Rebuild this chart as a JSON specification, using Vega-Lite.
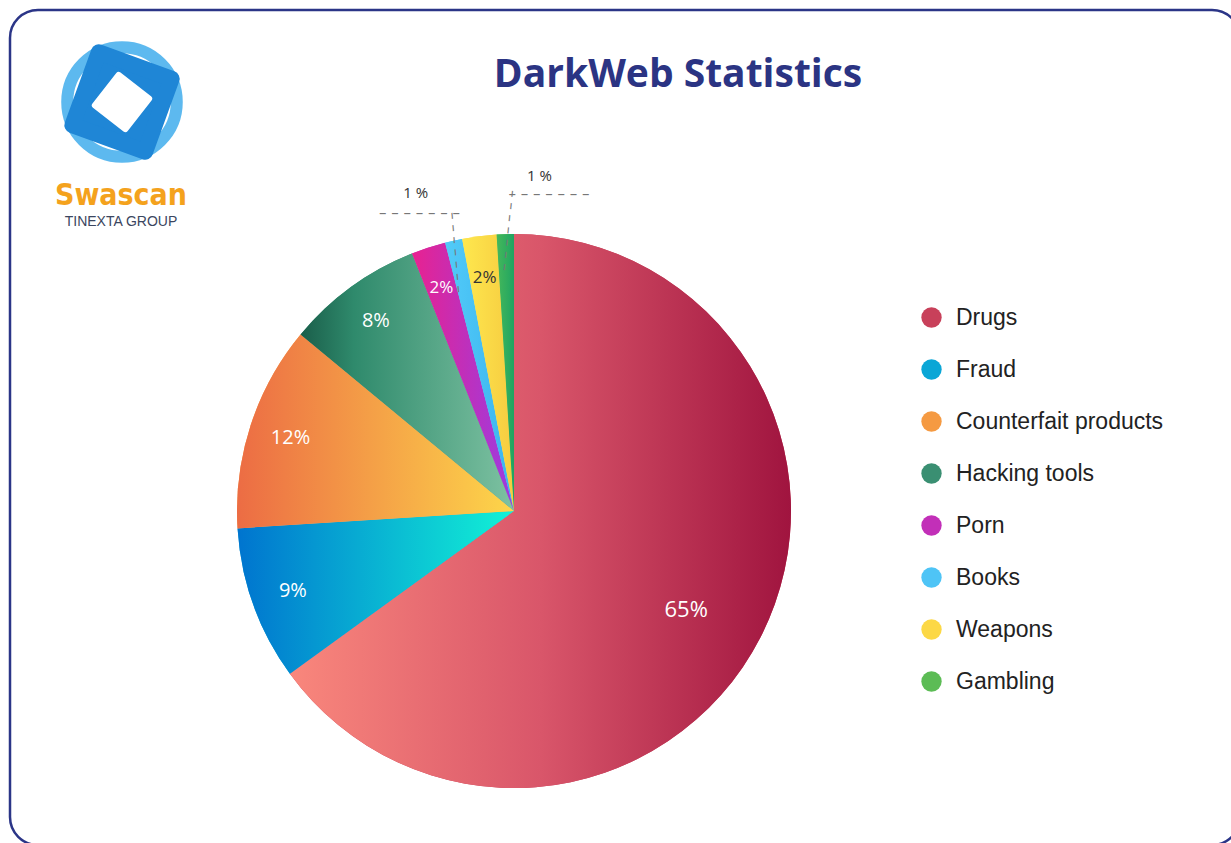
{
  "$schema": "https://vega.github.io/schema/vega-lite/v6.json",
  "autosize": "none",
  "padding": {"left": 10, "top": 10, "right": -9, "bottom": -2},
  "width": 1230,
  "height": 835,
  "background": "white",
  "view": {"stroke": "#2b3587", "strokeWidth": 2.5, "cornerRadius": 28, "fill": "white"},
  "config": {
    "view": {"stroke": "#2b3587", "strokeWidth": 2.5, "cornerRadius": 28},
    "legend": {"orient": "none"}
  },
  "title": {
    "text": "DarkWeb Statistics",
    "font": "Open Sans",
    "fontSize": 39,
    "fontWeight": "bold",
    "color": "#2b3483",
    "anchor": "middle",
    "frame": "group",
    "baseline": "alphabetic",
    "dx": 53,
    "dy": 120
  },
  "data": {
    "values": [
      {"cat": "Drugs", "value": 65, "idx": 1, "label": "65%"},
      {"cat": "Fraud", "value": 9, "idx": 2, "label": "9%"},
      {"cat": "Counterfait products", "value": 12, "idx": 3, "label": "12%"},
      {"cat": "Hacking tools", "value": 8, "idx": 4, "label": "8%"},
      {"cat": "Porn", "value": 2, "idx": 5, "label": "2%"},
      {"cat": "Books", "value": 1, "idx": 6, "label": "1 %"},
      {"cat": "Weapons", "value": 2, "idx": 7, "label": "2%"},
      {"cat": "Gambling", "value": 1, "idx": 8, "label": "1 %"}
    ]
  },
  "layer": [
    {
      "mark": {"type": "arc", "outerRadius": 277, "x": 504, "y": 501, "strokeWidth": 0},
      "encoding": {
        "theta": {"field": "value", "type": "quantitative", "stack": true},
        "order": {"field": "idx", "type": "quantitative"},
        "color": {
          "field": "cat",
          "type": "nominal",
          "scale": {
            "domain": ["Drugs", "Fraud", "Counterfait products", "Hacking tools", "Porn", "Books", "Weapons", "Gambling"],
            "range": ["#c8405a", "#0aa6d6", "#f59a42", "#3a8f72", "#c22fb8", "#4ec4f6", "#fcd845", "#5cbc55"]
          },
          "legend": {
            "title": null,
            "orient": "none",
            "legendX": 910,
            "legendY": 296,
            "symbolType": "circle",
            "symbolSize": 415,
            "symbolStrokeWidth": 0,
            "labelFont": "Liberation Sans",
            "labelFontSize": 23,
            "labelColor": "#222222",
            "labelOffset": 13,
            "rowPadding": 28,
            "labelLimit": 300
          }
        }
      }
    },
    {
      "mark": {"type": "arc", "outerRadius": 277, "x": 504, "y": 501, "strokeWidth": 0,
        "fill": {"gradient": "linear", "x1": 0, "y1": 0, "x2": 1, "y2": 0, "stops": [{"offset": 0, "color": "#f9877c"}, {"offset": 0.5, "color": "#d9566a"}, {"offset": 1, "color": "#a0143f"}]}},
      "encoding": {
        "theta": {"field": "value", "type": "quantitative", "stack": true},
        "order": {"field": "idx", "type": "quantitative"},
        "detail": {"field": "cat", "type": "nominal"},
        "opacity": {"condition": {"test": "datum.cat === 'Drugs'", "value": 1}, "value": 0}
      }
    },
    {
      "mark": {"type": "arc", "outerRadius": 277, "x": 504, "y": 501, "strokeWidth": 0,
        "fill": {"gradient": "linear", "x1": 0, "y1": 0, "x2": 1, "y2": 0, "stops": [{"offset": 0, "color": "#0074cf"}, {"offset": 1, "color": "#12f2d6"}]}},
      "encoding": {
        "theta": {"field": "value", "type": "quantitative", "stack": true},
        "order": {"field": "idx", "type": "quantitative"},
        "detail": {"field": "cat", "type": "nominal"},
        "opacity": {"condition": {"test": "datum.cat === 'Fraud'", "value": 1}, "value": 0}
      }
    },
    {
      "mark": {"type": "arc", "outerRadius": 277, "x": 504, "y": 501, "strokeWidth": 0,
        "fill": {"gradient": "linear", "x1": 0, "y1": 0, "x2": 1, "y2": 0, "stops": [{"offset": 0, "color": "#ec6c44"}, {"offset": 1, "color": "#fdd64a"}]}},
      "encoding": {
        "theta": {"field": "value", "type": "quantitative", "stack": true},
        "order": {"field": "idx", "type": "quantitative"},
        "detail": {"field": "cat", "type": "nominal"},
        "opacity": {"condition": {"test": "datum.cat === 'Counterfait products'", "value": 1}, "value": 0}
      }
    },
    {
      "mark": {"type": "arc", "outerRadius": 277, "x": 504, "y": 501, "strokeWidth": 0,
        "fill": {"gradient": "linear", "x1": 0, "y1": 0, "x2": 1, "y2": 0, "stops": [{"offset": 0, "color": "#1a5e4a"}, {"offset": 0.25, "color": "#2f8a6c"}, {"offset": 1, "color": "#7ec2a2"}]}},
      "encoding": {
        "theta": {"field": "value", "type": "quantitative", "stack": true},
        "order": {"field": "idx", "type": "quantitative"},
        "detail": {"field": "cat", "type": "nominal"},
        "opacity": {"condition": {"test": "datum.cat === 'Hacking tools'", "value": 1}, "value": 0}
      }
    },
    {
      "mark": {"type": "arc", "outerRadius": 277, "x": 504, "y": 501, "strokeWidth": 0,
        "fill": {"gradient": "linear", "x1": 0, "y1": 0, "x2": 1, "y2": 0, "stops": [{"offset": 0, "color": "#e82290"}, {"offset": 1, "color": "#9a3ce2"}]}},
      "encoding": {
        "theta": {"field": "value", "type": "quantitative", "stack": true},
        "order": {"field": "idx", "type": "quantitative"},
        "detail": {"field": "cat", "type": "nominal"},
        "opacity": {"condition": {"test": "datum.cat === 'Porn'", "value": 1}, "value": 0}
      }
    },
    {
      "mark": {"type": "arc", "outerRadius": 277, "x": 504, "y": 501, "strokeWidth": 0,
        "fill": {"gradient": "linear", "x1": 0, "y1": 0, "x2": 1, "y2": 0, "stops": [{"offset": 0, "color": "#52cbf8"}, {"offset": 1, "color": "#3bb4ef"}]}},
      "encoding": {
        "theta": {"field": "value", "type": "quantitative", "stack": true},
        "order": {"field": "idx", "type": "quantitative"},
        "detail": {"field": "cat", "type": "nominal"},
        "opacity": {"condition": {"test": "datum.cat === 'Books'", "value": 1}, "value": 0}
      }
    },
    {
      "mark": {"type": "arc", "outerRadius": 277, "x": 504, "y": 501, "strokeWidth": 0,
        "fill": {"gradient": "linear", "x1": 0, "y1": 0, "x2": 1, "y2": 0, "stops": [{"offset": 0, "color": "#fee84e"}, {"offset": 1, "color": "#f6cb40"}]}},
      "encoding": {
        "theta": {"field": "value", "type": "quantitative", "stack": true},
        "order": {"field": "idx", "type": "quantitative"},
        "detail": {"field": "cat", "type": "nominal"},
        "opacity": {"condition": {"test": "datum.cat === 'Weapons'", "value": 1}, "value": 0}
      }
    },
    {
      "mark": {"type": "arc", "outerRadius": 277, "x": 504, "y": 501, "strokeWidth": 0,
        "fill": {"gradient": "linear", "x1": 0, "y1": 0, "x2": 1, "y2": 0, "stops": [{"offset": 0, "color": "#45b85a"}, {"offset": 1, "color": "#20a462"}]}},
      "encoding": {
        "theta": {"field": "value", "type": "quantitative", "stack": true},
        "order": {"field": "idx", "type": "quantitative"},
        "detail": {"field": "cat", "type": "nominal"},
        "opacity": {"condition": {"test": "datum.cat === 'Gambling'", "value": 1}, "value": 0}
      }
    },
    {
      "mark": {"type": "text", "radius": 235, "x": 504, "y": 501, "font": "Open Sans", "align": "center", "baseline": "middle"},
      "encoding": {
        "theta": {"field": "value", "type": "quantitative", "stack": true},
        "order": {"field": "idx", "type": "quantitative"},
        "detail": {"field": "cat", "type": "nominal"},
        "text": {"condition": {"test": "indexof(['Fraud','Counterfait products','Hacking tools','Porn','Weapons'], datum.cat) >= 0", "field": "label"}, "value": ""},
        "color": {"condition": {"test": "datum.cat === 'Weapons'", "value": "#333333"}, "value": "#ffffff"},
        "size": {"condition": {"test": "datum.cat === 'Weapons' || datum.cat === 'Porn'", "value": 17}, "value": 20}
      }
    },
    {
      "mark": {"type": "text", "radius": 200, "x": 504, "y": 501, "font": "Open Sans", "fontSize": 22, "color": "#ffffff", "align": "center", "baseline": "middle", "dx": -6, "dy": 8},
      "encoding": {
        "theta": {"field": "value", "type": "quantitative", "stack": true},
        "order": {"field": "idx", "type": "quantitative"},
        "detail": {"field": "cat", "type": "nominal"},
        "text": {"condition": {"test": "datum.cat === 'Drugs'", "field": "label"}, "value": ""}
      }
    },
    {
      "mark": {"type": "text", "radius": 322, "x": 504, "y": 501, "font": "Open Sans", "fontSize": 15, "color": "#333333", "align": "center", "baseline": "middle", "dx": -28, "dy": -4},
      "encoding": {
        "theta": {"field": "value", "type": "quantitative", "stack": true},
        "order": {"field": "idx", "type": "quantitative"},
        "detail": {"field": "cat", "type": "nominal"},
        "text": {"condition": {"test": "datum.cat === 'Books'", "field": "label"}, "value": ""}
      }
    },
    {
      "mark": {"type": "text", "radius": 335, "x": 504, "y": 501, "font": "Open Sans", "fontSize": 15, "color": "#333333", "align": "center", "baseline": "middle", "dx": 36},
      "encoding": {
        "theta": {"field": "value", "type": "quantitative", "stack": true},
        "order": {"field": "idx", "type": "quantitative"},
        "detail": {"field": "cat", "type": "nominal"},
        "text": {"condition": {"test": "datum.cat === 'Gambling'", "field": "label"}, "value": ""}
      }
    },
    {
      "mark": {"type": "text", "radius": 305, "x": 504, "y": 501, "font": "DejaVu Sans", "fontSize": 15, "color": "#777777", "align": "center", "baseline": "middle", "dx": -28},
      "encoding": {
        "theta": {"field": "value", "type": "quantitative", "stack": true},
        "order": {"field": "idx", "type": "quantitative"},
        "detail": {"field": "cat", "type": "nominal"},
        "text": {"condition": {"test": "datum.cat === 'Books'", "value": "– – – – – – –"}, "value": ""}
      }
    },
    {
      "mark": {"type": "text", "radius": 265, "x": 504, "y": 501, "font": "DejaVu Sans", "fontSize": 15, "color": "#777777", "align": "center", "baseline": "middle", "angle": 85},
      "encoding": {
        "theta": {"field": "value", "type": "quantitative", "stack": true},
        "order": {"field": "idx", "type": "quantitative"},
        "detail": {"field": "cat", "type": "nominal"},
        "text": {"condition": {"test": "datum.cat === 'Books'", "value": "– – – – – – –"}, "value": ""}
      }
    },
    {
      "mark": {"type": "text", "radius": 317, "x": 504, "y": 501, "font": "DejaVu Sans", "fontSize": 15, "color": "#777777", "align": "center", "baseline": "middle", "dx": 45},
      "encoding": {
        "theta": {"field": "value", "type": "quantitative", "stack": true},
        "order": {"field": "idx", "type": "quantitative"},
        "detail": {"field": "cat", "type": "nominal"},
        "text": {"condition": {"test": "datum.cat === 'Gambling'", "value": "– – – – – – –"}, "value": ""}
      }
    },
    {
      "mark": {"type": "text", "radius": 281, "x": 504, "y": 501, "font": "DejaVu Sans", "fontSize": 15, "color": "#777777", "align": "center", "baseline": "middle", "angle": 96, "dy": -4},
      "encoding": {
        "theta": {"field": "value", "type": "quantitative", "stack": true},
        "order": {"field": "idx", "type": "quantitative"},
        "detail": {"field": "cat", "type": "nominal"},
        "text": {"condition": {"test": "datum.cat === 'Gambling'", "value": "– – – – – – –"}, "value": ""}
      }
    },
    {
      "data": {"values": [{}]},
      "mark": {"type": "point", "shape": "circle", "filled": false, "x": 112, "y": 92, "size": 12000, "color": "#4cb2ee", "strokeWidth": 12, "opacity": 0.9},
      "encoding": {}
    },
    {
      "data": {"values": [{}]},
      "mark": {"type": "point", "shape": "square", "filled": true, "x": 112, "y": 92, "size": 6000, "angle": 20, "color": "#1f86d6", "stroke": "#1f86d6", "strokeWidth": 16, "strokeJoin": "round", "opacity": 1},
      "encoding": {}
    },
    {
      "data": {"values": [{}]},
      "mark": {"type": "point", "shape": "square", "filled": true, "x": 112, "y": 92, "size": 1500, "angle": 38, "color": "#ffffff", "stroke": "#ffffff", "strokeWidth": 6, "strokeJoin": "round", "opacity": 1},
      "encoding": {}
    },
    {
      "data": {"values": [{}]},
      "mark": {"type": "text", "text": "Swascan", "x": 111, "y": 195, "font": "DejaVu Sans Condensed", "fontWeight": "bold", "fontSize": 30, "color": "#f4a21d", "align": "center", "baseline": "alphabetic"},
      "encoding": {}
    },
    {
      "data": {"values": [{}]},
      "mark": {"type": "text", "text": "TINEXTA GROUP", "x": 111, "y": 216, "font": "Liberation Sans", "fontSize": 14, "color": "#3b4660", "align": "center", "baseline": "alphabetic"},
      "encoding": {}
    }
  ]
}
